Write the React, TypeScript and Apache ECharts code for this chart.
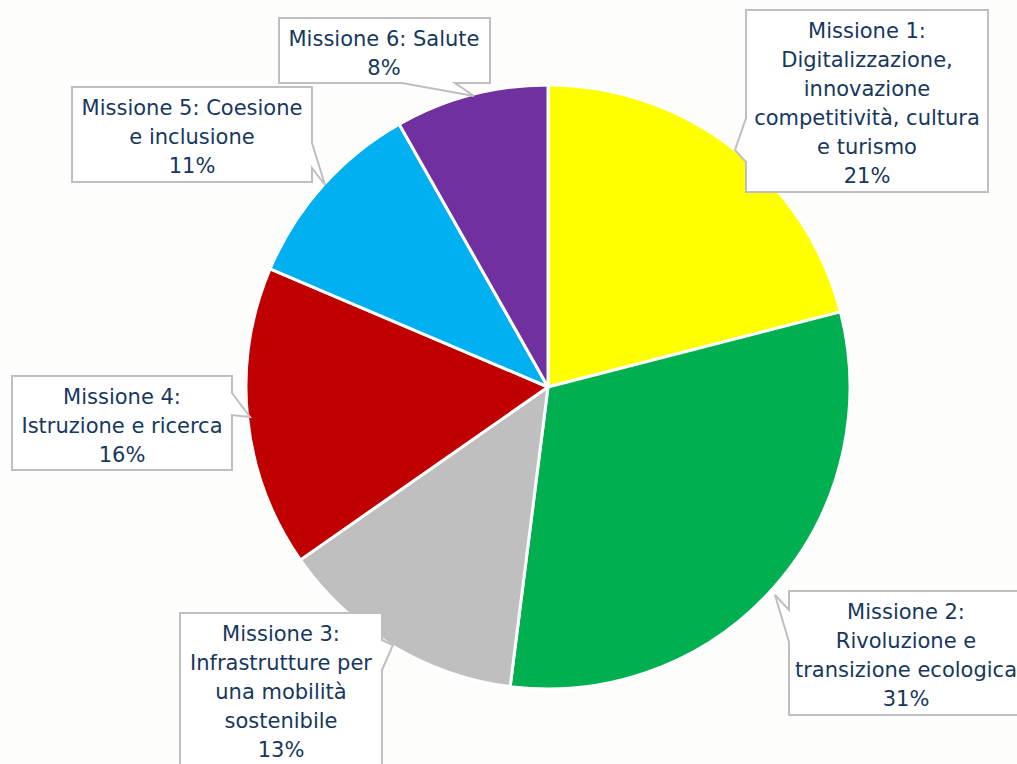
import React, { useEffect, useRef } from "react";
import * as echarts from "echarts";

const categories = [
  "Missione 1:\nDigitalizzazione,\ninnovazione\ncompetitività, cultura\ne turismo",
  "Missione 2:\nRivoluzione e\ntransizione ecologica",
  "Missione 3:\nInfrastrutture per\nuna mobilità\nsostenibile",
  "Missione 4:\nIstruzione e ricerca",
  "Missione 5: Coesione\ne inclusione",
  "Missione 6: Salute",
];
const shares = [21.0, 31.0, 13.3, 16.1, 10.4, 8.2];
const percentLabels = ["21%", "31%", "13%", "16%", "11%", "8%"];
const colors = ["#FFFF00", "#00B050", "#BFBFBF", "#C00000", "#00B0F0", "#7030A0"];

// callout layout (outline polygon + text block centre)
const calloutShapes: number[][][] = [
  [[746, 10], [988, 10], [988, 192], [746, 192], [746, 162], [735, 150], [746, 118]],
  [[789, 591], [1030, 591], [1030, 715], [789, 715], [789, 642], [775, 595], [789, 610]],
  [[180, 613], [382, 613], [382, 640], [393, 645], [382, 670], [382, 800], [180, 800]],
  [[12, 376], [232, 376], [232, 393], [250, 417], [232, 415], [232, 470], [12, 470]],
  [[72, 87], [312, 87], [312, 143], [325, 185], [312, 168], [312, 182], [72, 182]],
  [[279, 18], [490, 18], [490, 83], [455, 83], [474, 96], [402, 83], [279, 83]],
];
const calloutCentres: number[][] = [
  [867, 103],
  [906, 655],
  [281, 692],
  [122, 426],
  [192, 137],
  [384, 53],
];

export default function App() {
  const ref = useRef<HTMLDivElement>(null);
  useEffect(() => {
    if (!ref.current) return;
    const chart = echarts.init(ref.current, undefined, { renderer: "svg" });
    const graphics: any[] = [];
    categories.forEach((name, i) => {
      graphics.push({
        type: "polygon",
        z: 100,
        shape: { points: calloutShapes[i] },
        style: { fill: "#FFFFFF", stroke: "#BFBFBF", lineWidth: 2 },
      });
      graphics.push({
        type: "text",
        z: 101,
        x: calloutCentres[i][0],
        y: calloutCentres[i][1],
        style: {
          text: name + "\n" + percentLabels[i],
          fill: "#17375E",
          font: '21px "DejaVu Sans", Verdana, sans-serif',
          lineHeight: 29,
          align: "center",
          verticalAlign: "middle",
        },
      });
    });
    chart.setOption({
      animation: false,
      backgroundColor: "#FDFDFB",
      color: colors,
      series: [
        {
          type: "pie",
          center: [548, 387],
          radius: 302,
          startAngle: 90,
          clockwise: true,
          label: { show: false },
          labelLine: { show: false },
          emphasis: { disabled: true },
          itemStyle: { borderColor: "#FFFFFF", borderWidth: 3 },
          data: categories.map((n, i) => ({ name: n, value: shares[i] })),
        },
      ],
      graphic: graphics,
    });
    return () => chart.dispose();
  }, []);
  return (
    <div
      ref={ref}
      style={{ position: "absolute", left: 0, top: 0, width: 1017, height: 764 }}
    />
  );
}
